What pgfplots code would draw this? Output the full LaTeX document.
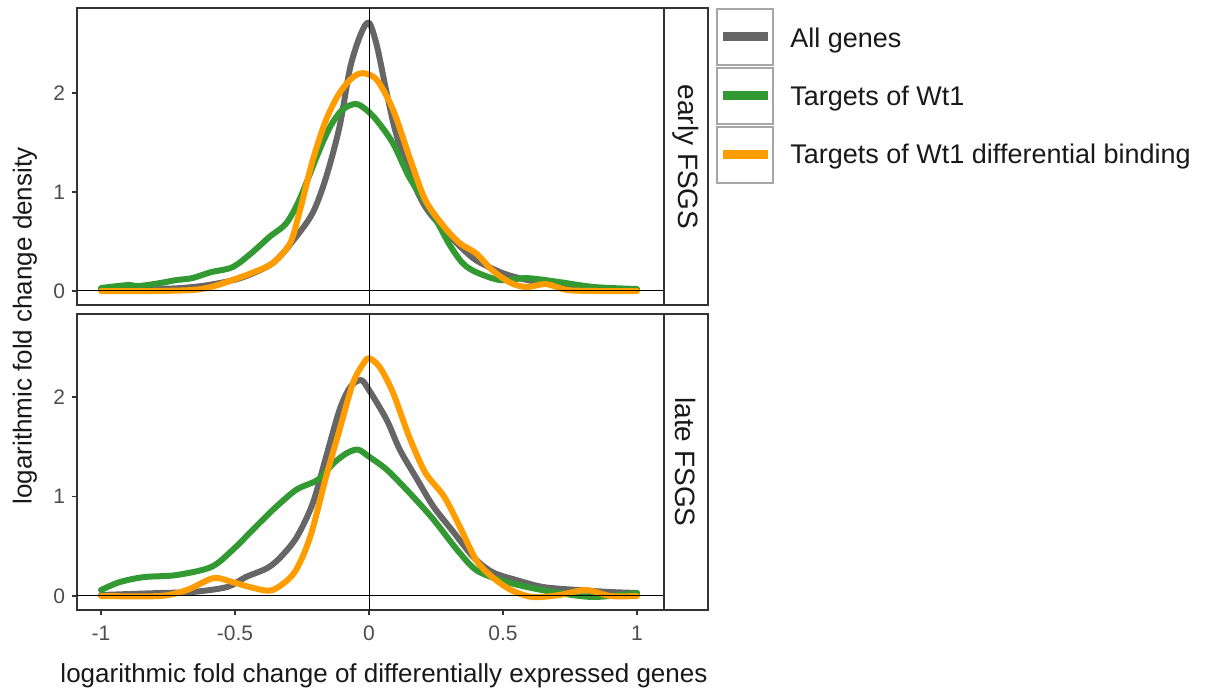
\documentclass[border=0pt]{standalone}
\usepackage{fontspec}
\setmainfont{Liberation Sans}
\usepackage{pgfplots}
\pgfplotsset{compat=1.18}

\definecolor{cgray}{HTML}{666666}
\definecolor{cgreen}{HTML}{339933}
\definecolor{corange}{HTML}{FF9D00}
\definecolor{frame}{HTML}{333333}
\definecolor{ticktext}{HTML}{4D4D4D}

\pgfplotsset{
  panel/.style={
    scale only axis,
    width=293.5pt,
    xmin=-1.0896, xmax=1.1007,
    axis line style={draw=frame, line width=0.6pt},
    tick style={draw=frame, line width=0.6pt},
    major tick length=2.5pt,
    tick align=outside,
    ytick={0,1,2},
    yticklabels={0,1,2},
    ytick pos=left,
    yticklabel style={font=\fontsize{10.5}{12}\selectfont, text=ticktext},
    xticklabel style={font=\fontsize{10.5}{12}\selectfont, text=ticktext, yshift=-2pt},
    /pgf/number format/assume math mode=true,
    every axis plot/.append style={line width=3pt, smooth, tension=0.5,
      line join=round, line cap=round, mark=none},
  },
}

\begin{document}
\begin{tikzpicture}
\useasboundingbox (0,0) rectangle (603pt,345.5pt);

% early FSGS
\begin{axis}[panel, at={(38.5pt,193pt)}, anchor=south west,
  height=148.5pt, ymin=-0.1414, ymax=2.859,
  xtick=\empty]
\addplot[cgray] coordinates {
  (-1,0.01) (-0.9,0.01) (-0.8,0.02) (-0.7,0.03) (-0.6,0.06) (-0.48,0.13)
  (-0.36,0.28) (-0.28,0.52) (-0.21,0.79) (-0.16,1.15) (-0.11,1.66)
  (-0.07,2.26) (-0.03,2.6) (0,2.71) (0.03,2.47) (0.066,2.0) (0.10,1.6)
  (0.15,1.19) (0.21,0.85) (0.28,0.62) (0.34,0.45) (0.40,0.31) (0.49,0.19)
  (0.56,0.13) (0.65,0.08) (0.78,0.03) (1.0,0.01)
};
\addplot[cgreen] coordinates {
  (-1,0.03) (-0.9,0.06) (-0.86,0.05) (-0.78,0.08) (-0.72,0.11) (-0.66,0.13)
  (-0.59,0.19) (-0.51,0.24) (-0.44,0.38) (-0.37,0.55) (-0.31,0.68)
  (-0.26,0.92) (-0.19,1.39) (-0.145,1.66) (-0.10,1.83) (-0.05,1.89)
  (-0.01,1.83) (0.03,1.72) (0.09,1.49) (0.15,1.15) (0.21,0.90) (0.25,0.72)
  (0.30,0.47) (0.35,0.28) (0.40,0.19) (0.49,0.11) (0.59,0.13) (0.71,0.09)
  (0.84,0.04) (1.0,0.02)
};
\addplot[corange] coordinates {
  (-1,0) (-0.8,0) (-0.66,0.01) (-0.59,0.04) (-0.51,0.11) (-0.43,0.19)
  (-0.36,0.28) (-0.295,0.48) (-0.26,0.79) (-0.21,1.32) (-0.16,1.73)
  (-0.11,2.0) (-0.06,2.16) (-0.02,2.2) (0.03,2.13) (0.09,1.83) (0.15,1.36)
  (0.21,0.92) (0.28,0.65) (0.34,0.48) (0.40,0.38) (0.46,0.21) (0.53,0.08)
  (0.59,0.04) (0.66,0.07) (0.74,0.01) (0.85,0) (1.0,0)
};
\draw[black, line width=0.5pt] (axis cs:-1.0896,0) -- (axis cs:1.1007,0);
\draw[black, line width=0.5pt] (axis cs:0,-0.1414) -- (axis cs:0,2.859);
\end{axis}

% late FSGS
\begin{axis}[panel, at={(38.5pt,40.5pt)}, anchor=south west,
  height=148pt, ymin=-0.1407, ymax=2.834,
  xtick={-1,-0.5,0,0.5,1},
  xticklabels={-1,-0.5,0,0.5,1},
  xtick pos=bottom]
\addplot[cgray] coordinates {
  (-1,0.01) (-0.78,0.03) (-0.66,0.04) (-0.53,0.09) (-0.46,0.19) (-0.38,0.28)
  (-0.33,0.39) (-0.27,0.59) (-0.21,0.93) (-0.16,1.40) (-0.11,1.87)
  (-0.07,2.10) (-0.03,2.17) (0,2.07) (0.066,1.77) (0.115,1.47) (0.18,1.17)
  (0.24,0.90) (0.31,0.66) (0.39,0.39) (0.46,0.24) (0.55,0.16) (0.65,0.09)
  (0.78,0.06) (0.90,0.04) (1.0,0.03)
};
\addplot[cgreen] coordinates {
  (-1,0.06) (-0.93,0.14) (-0.84,0.19) (-0.72,0.21) (-0.59,0.29) (-0.51,0.46)
  (-0.41,0.73) (-0.345,0.90) (-0.27,1.07) (-0.19,1.17) (-0.13,1.34)
  (-0.08,1.44) (-0.04,1.47) (0,1.40) (0.066,1.27) (0.15,1.04) (0.24,0.77)
  (0.33,0.46) (0.40,0.26) (0.49,0.16) (0.59,0.09) (0.71,0.03) (0.84,-0.01)
  (1.0,0.03)
};
\addplot[corange] coordinates {
  (-1,0) (-0.78,0) (-0.68,0.06) (-0.58,0.18) (-0.51,0.14) (-0.43,0.08)
  (-0.36,0.06) (-0.28,0.23) (-0.22,0.59) (-0.16,1.20) (-0.11,1.67)
  (-0.06,2.14) (-0.02,2.34) (0,2.39) (0.04,2.30) (0.09,2.04) (0.15,1.60)
  (0.21,1.24) (0.28,1.0) (0.34,0.69) (0.40,0.36) (0.46,0.19) (0.53,0.06)
  (0.61,-0.01) (0.71,0.01) (0.81,0.06) (0.90,0.0) (1.0,0)
};
\draw[black, line width=0.5pt] (axis cs:-1.0896,0) -- (axis cs:1.1007,0);
\draw[black, line width=0.5pt] (axis cs:0,-0.1407) -- (axis cs:0,2.834);
\end{axis}

% facet strips
\draw[frame, line width=0.6pt] (332pt,193pt) rectangle (354pt,341.5pt);
\draw[frame, line width=0.6pt] (332pt,40.5pt) rectangle (354pt,188.5pt);
\node[rotate=-90, font=\fontsize{14}{16}\selectfont, text=black!90] at (343pt,267pt) {early FSGS};
\node[rotate=-90, font=\fontsize{14}{16}\selectfont, text=black!90] at (343pt,114.5pt) {late FSGS};

% axis titles
\node[font=\fontsize{13}{15}\selectfont, text=black!90] at (192pt,7.5pt) {logarithmic fold change of differentially expressed genes};
\node[rotate=90, font=\fontsize{13}{15}\selectfont, text=black!90] at (12.5pt,182.5pt) {logarithmic fold change density};

% legend
\draw[black!35, line width=0.6pt] (358.5pt,313pt) rectangle (386.5pt,341pt);
\draw[black!35, line width=0.6pt] (358.5pt,283.5pt) rectangle (386.5pt,311.5pt);
\draw[black!35, line width=0.6pt] (358.5pt,254pt) rectangle (386.5pt,282pt);
\draw[cgray, line width=4.5pt] (361.5pt,327pt) -- (384pt,327pt);
\draw[cgreen, line width=4.5pt] (361.5pt,297.5pt) -- (384pt,297.5pt);
\draw[corange, line width=4.5pt] (361.5pt,268pt) -- (384pt,268pt);
\node[anchor=west, font=\fontsize{13.5}{16}\selectfont, text=black!90, inner sep=0pt] at (395pt,325pt) {All genes};
\node[anchor=west, font=\fontsize{13.5}{16}\selectfont, text=black!90, inner sep=0pt] at (395pt,296pt) {Targets of Wt1};
\node[anchor=west, font=\fontsize{13.5}{16}\selectfont, text=black!90, inner sep=0pt] at (395pt,267pt) {Targets of Wt1 differential binding};
\end{tikzpicture}
\end{document}
